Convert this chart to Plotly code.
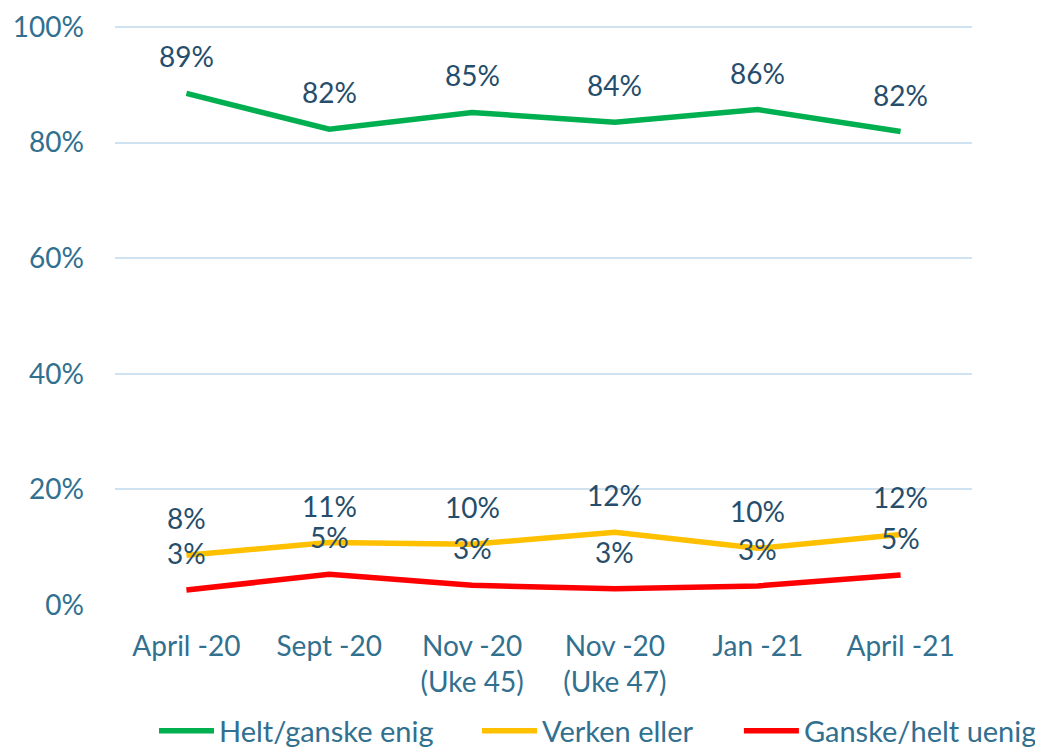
import plotly.graph_objects as go

# Kategorier (måletidspunkt)
categories = ["April -20", "Sept -20", "Nov -20<br>(Uke 45)", "Nov -20<br>(Uke 47)", "Jan -21", "April -21"]

# Verdier lest av figuren (prosent)
enig = [88.5, 82.3, 85.2, 83.5, 85.7, 81.9]
verken = [8.6, 10.8, 10.5, 12.6, 9.8, 12.2]
uenig = [2.6, 5.3, 3.4, 2.8, 3.3, 5.2]

# Datatiketter slik de står i figuren
enig_lbl = ["89%", "82%", "85%", "84%", "86%", "82%"]
verken_lbl = ["8%", "11%", "10%", "12%", "10%", "12%"]
uenig_lbl = ["3%", "5%", "3%", "3%", "3%", "5%"]

series = [
    ("Helt/ganske enig", enig, enig_lbl, "#00B050", "legend", 0.0455),
    ("Verken eller", verken, verken_lbl, "#FFC000", "legend2", 0.4224),
    ("Ganske/helt uenig", uenig, uenig_lbl, "#FF0000", "legend3", 0.728),
]

FONT = "Lato"
TICK_COL = "#31708F"
LBL_COL = "#264D6B"

fig = go.Figure()
annotations = []
legends = {}
for name, vals, lbls, col, leg, lx in series:
    fig.add_trace(go.Scatter(x=categories, y=vals, mode="lines", name=name, legend=leg,
                             line=dict(color=col, width=5.5)))
    for c, v, t in zip(categories, vals, lbls):
        annotations.append(dict(x=c, y=v, text=t, showarrow=False, yshift=37,
                                font=dict(family=FONT, size=28, color=LBL_COL)))
    legends[leg] = dict(orientation="h", x=lx, xanchor="left", y=-0.173, yanchor="top",
                        itemwidth=55, font=dict(family=FONT, size=29, color=TICK_COL),
                        bgcolor="rgba(0,0,0,0)")

fig.update_layout(
    width=1043, height=748,
    paper_bgcolor="white", plot_bgcolor="white",
    margin=dict(l=107, r=79, t=16, b=151, autoexpand=False),
    font=dict(family=FONT, size=28, color=TICK_COL),
    annotations=annotations,
    showlegend=True,
    **legends,
)
fig.update_xaxes(type="category", range=[-0.5, 5.5], showgrid=False, showline=False,
                 zeroline=False, ticks="", ticklabelstandoff=22,
                 tickfont=dict(family=FONT, size=28, color=TICK_COL))
fig.update_yaxes(range=[0, 100.5], tickmode="linear", tick0=0, dtick=20, ticksuffix="%",
                 showgrid=True, gridcolor="#D0E2F0", gridwidth=1.5, zeroline=False,
                 showline=False, ticks="", ticklabelstandoff=30,
                 tickfont=dict(family=FONT, size=28, color=TICK_COL))

fig.write_html("out.html")
